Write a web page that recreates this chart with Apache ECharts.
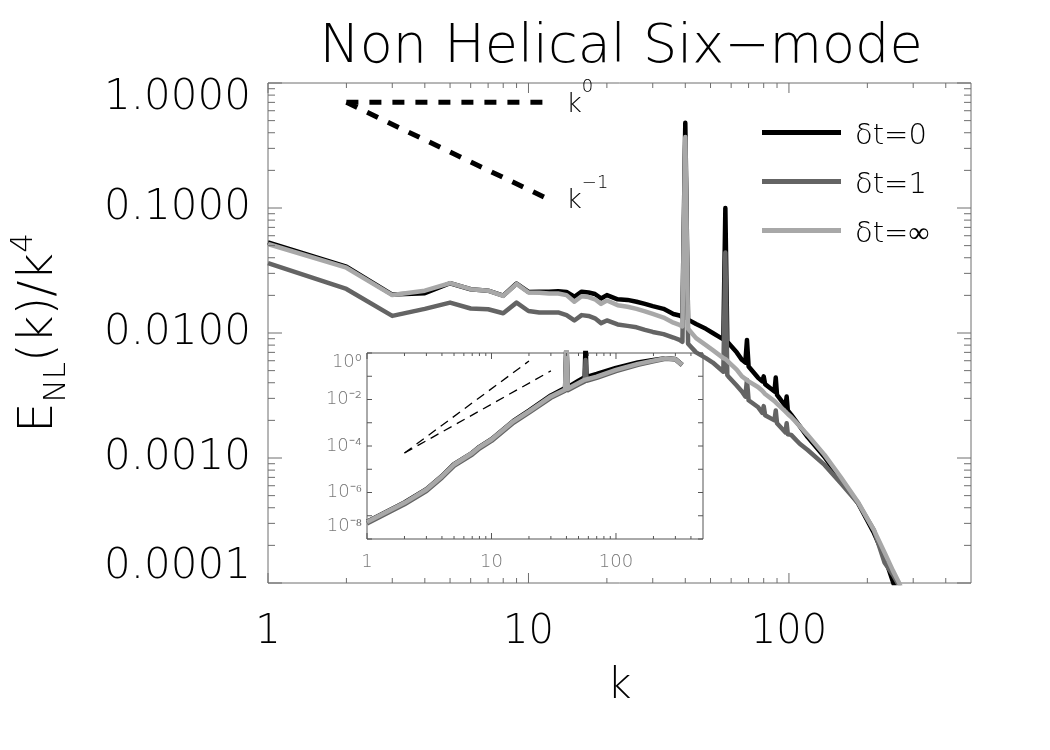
<!DOCTYPE html>
<html>
<head>
<meta charset="utf-8">
<script src="https://cdn.jsdelivr.net/npm/echarts@6.0.0/dist/echarts.min.js"></script>
<style>html,body{margin:0;padding:0;background:#fff;}#chart{width:1050px;height:750px;}</style>
</head>
<body>
<div id="chart"></div>
<script>
// ---------------- data ----------------
const seriesNames = ['δt=0', 'δt=1', 'δt=∞'];

const kMain = [1,2,3,4,5,6,7,8,9,10,11,12,13,14,15,16,17,18,19,20,22,24,26,28,30,33,36,38,39,40,41,44,48,51,56,57,58,59,63,66,68,69,70,76,79,80,81,88,89,90,97,98,99,102,110,118,137,158,184,212,233,251,265,280];

const eBlack = [0.053,0.0340,0.0203,0.0208,0.0250,0.0224,0.0218,0.0199,0.0249,0.0213,0.0214,0.0214,0.0216,0.0213,0.0195,0.0214,0.0211,0.0205,0.0189,0.0201,0.0186,0.0184,0.0178,0.0171,0.0164,0.0156,0.0142,0.0138,0.0134,0.48,0.0128,0.0118,0.0108,0.0100,0.0089,0.100,0.0085,0.0083,0.0070,0.0061,0.0058,0.0088,0.0054,0.0044,0.0041,0.0045,0.0039,0.0034,0.0044,0.0032,0.0026,0.0031,0.0024,0.00222,0.00180,0.00147,0.00102,0.000667,0.000437,0.000251,0.000161,0.000102,0.000072,0.000050];

const eDark = [0.0363,0.0225,0.0137,0.0156,0.0175,0.0157,0.0155,0.0144,0.0175,0.0150,0.0146,0.0146,0.0146,0.0139,0.0126,0.0139,0.0137,0.0131,0.0120,0.0126,0.0117,0.0114,0.0111,0.0106,0.0102,0.0098,0.0092,0.0088,0.0085,0.35,0.0082,0.0070,0.0063,0.0058,0.0049,0.044,0.0046,0.0044,0.0038,0.0034,0.0031,0.0042,0.0029,0.00256,0.0023,0.0026,0.0022,0.0020,0.0024,0.0019,0.0016,0.0019,0.00155,0.00153,0.0013,0.00116,0.00088,0.00063,0.000437,0.000265,0.000145,0.000116,0.000095,0.000070];

const eLight = [0.0515,0.0333,0.0201,0.0218,0.0251,0.0224,0.0218,0.0198,0.0247,0.0211,0.0210,0.0207,0.0207,0.0201,0.0178,0.0197,0.0194,0.0186,0.0171,0.0182,0.0167,0.0162,0.0156,0.0149,0.0142,0.0133,0.0121,0.0116,0.0113,0.37,0.0108,0.0091,0.0080,0.0073,0.0063,0.0062,0.0060,0.0058,0.0051,0.00450,0.00430,0.00420,0.00410,0.00370,0.00345,0.00335,0.00325,0.00285,0.00280,0.00272,0.00235,0.00230,0.00225,0.00213,0.00180,0.00153,0.00106,0.000705,0.000445,0.000265,0.000175,0.000125,0.000100,0.000075];

// reference slopes in the main panel
const kRef = [2, 11.7];
const refFlat = [0.7, 0.7];      // k^0
const refSteep = [0.7, 0.12];    // k^-1

// inset
const kInset = [1,2,3,4,5,7,8,10,15,20,30,39,40,41,50,56,57,58,70,100,150,200,250,300,340];
const insetBlack = [5.5e-8,3.7e-7,1.4e-6,5.1e-6,1.65e-5,5.1e-5,9.2e-5,1.95e-4,1.2e-3,3.3e-3,0.0150,0.031,3,0.034,0.064,0.090,3,0.094,0.125,0.23,0.39,0.50,0.60,0.55,0.31];
const insetDark = [4.7e-8,3.1e-7,1.15e-6,4.3e-6,1.4e-5,4.3e-5,7.8e-5,1.65e-4,1.0e-3,2.7e-3,0.0118,0.024,3,0.025,0.044,0.060,0.50,0.064,0.085,0.165,0.31,0.44,0.56,0.52,0.30];
const insetLight = [5.4e-8,3.6e-7,1.35e-6,5.0e-6,1.6e-5,5.0e-5,9.0e-5,1.9e-4,1.15e-3,3.1e-3,0.0135,0.027,3,0.029,0.051,0.070,0.072,0.074,0.097,0.187,0.34,0.47,0.59,0.54,0.31];
const kRefInset4 = [2, 20];
const refInset4 = [5e-5, 0.45];
const kRefInset3 = [2, 30];
const refInset3 = [5e-5, 0.17];

// ticks
const mainXMajor = [1, 10, 100];
const mainXMinor = [2,3,4,5,6,7,8,9,20,30,40,50,60,70,80,90,200,300,400];
const mainYMajor = [0.0001, 0.001, 0.01, 0.1, 1];
const mainYMinor = [0.0002,0.0003,0.0004,0.0005,0.0006,0.0007,0.0008,0.0009,0.002,0.003,0.004,0.005,0.006,0.007,0.008,0.009,0.02,0.03,0.04,0.05,0.06,0.07,0.08,0.09,0.2,0.3,0.4,0.5,0.6,0.7,0.8,0.9];
const insetXMajor = [1, 10, 100];
const insetXMinor = [2,3,4,5,6,7,8,9,20,30,40,50,60,70,80,90,200,300,400];
const insetYMajor = [1e-8,1e-7,1e-6,1e-5,1e-4,1e-3,1e-2,1e-1,1];
const supDigits = {'0':'⁰','1':'¹','2':'²','3':'³','4':'⁴','5':'⁵','6':'⁶','7':'⁷','8':'⁸','9':'⁹'};

const mainX = [1, 500], mainY = [0.0001, 1];
const insX = [1, 500], insY = [1e-8, 1];

// ---------------- chart ----------------
const F = 'DejaVu Sans';
const W = 200;
const C_BLACK = '#000000', C_DARK = '#646464', C_LIGHT = '#a8a8a8';
const AX = '#6e6e6e';
const IN = '#7a7a7a';
const pairs = (ks, vs) => ks.map((k, i) => [k, vs[i]]);
const expOf = v => Math.round(Math.log10(v));
const isDecade = v => Math.abs(Math.log10(v) - Math.round(Math.log10(v))) < 1e-6;
const supText = e => (e < 0 ? '⁻' : '') + String(Math.abs(e)).split('').map(d => supDigits[d]).join('');

function tickSeries(gi, dir, values, len, xr, yr, color) {
  return {
    type: 'custom', xAxisIndex: gi, yAxisIndex: gi, silent: true, z: 10, clip: false,
    data: values.map(v => dir === 'x' ? [v, yr[0]] : [xr[0], v]),
    renderItem: (params, api) => {
      let a, b, ch;
      if (dir === 'x') {
        const v = api.value(0);
        a = api.coord([v, yr[0]]); b = api.coord([v, yr[1]]);
        ch = [[a[0], a[1], a[0], a[1] - len], [b[0], b[1], b[0], b[1] + len]];
      } else {
        const v = api.value(1);
        a = api.coord([xr[0], v]); b = api.coord([xr[1], v]);
        ch = [[a[0], a[1], a[0] + len, a[1]], [b[0], b[1], b[0] - len, b[1]]];
      }
      return { type: 'group', children: ch.map(c => ({
        type: 'line', shape: { x1: c[0], y1: c[1], x2: c[2], y2: c[3] },
        style: { stroke: color, lineWidth: 1 } })) };
    }
  };
}

function curve(name, gi, ks, vs, color, width) {
  return {
    name, type: 'line', xAxisIndex: gi, yAxisIndex: gi, data: pairs(ks, vs),
    showSymbol: false, symbol: 'none', clip: true,
    lineStyle: { color, width, join: 'round' }, itemStyle: { color }
  };
}

function refLine(gi, ks, vs, width, dash, label) {
  const s = {
    type: 'line', xAxisIndex: gi, yAxisIndex: gi, data: pairs(ks, vs), silent: true,
    showSymbol: false, symbol: 'none', clip: true, z: 3,
    lineStyle: { color: '#000', width, type: dash, cap: 'butt' }
  };
  if (label) {
    s.endLabel = {
      show: true, formatter: label, distance: 20, offset: [0, -4],
      rich: {
        k: { fontFamily: F, fontWeight: W, fontSize: 27, lineHeight: 40, verticalAlign: 'bottom', color: '#000' },
        s: { fontFamily: F, fontWeight: W, fontSize: 18, lineHeight: 40, verticalAlign: 'top', color: '#000' }
      }
    };
  }
  return s;
}

const chart = echarts.init(document.getElementById('chart'));

const option = {
  animation: false,
  backgroundColor: '#ffffff',
  title: {
    text: 'Non Helical Six−mode', left: 616, top: 16, textAlign: 'center',
    textStyle: { fontFamily: F, fontWeight: W, fontSize: 54, color: '#000' }
  },
  legend: {
    data: seriesNames, orient: 'vertical', left: 762, top: 114, padding: 0,
    itemWidth: 79, itemHeight: 5, itemGap: 12, icon: 'rect', selectedMode: false,
    formatter: n => '{p|' + n + '}',
    textStyle: {
      fontFamily: F, fontWeight: W, fontSize: 29, color: '#000',
      rich: { p: { fontFamily: F, fontWeight: W, fontSize: 29, lineHeight: 30, padding: [8, 0, 0, 9], color: '#000' } }
    }
  },
  grid: [
    { left: 262, right: 79, top: 83, bottom: 167, show: true, borderColor: AX, borderWidth: 1, backgroundColor: 'transparent', containLabel: false },
    { left: 367, right: 347, top: 353, bottom: 211, show: true, borderColor: '#555', borderWidth: 1, backgroundColor: 'transparent', containLabel: false }
  ],
  xAxis: [
    {
      type: 'log', logBase: 10, gridIndex: 0, min: mainX[0], max: mainX[1],
      axisLine: { show: false }, axisTick: { show: false }, splitLine: { show: false },
      axisLabel: {
        margin: 30, fontFamily: F, fontWeight: W, fontSize: 40, color: '#000',
        formatter: v => isDecade(v) ? String(Math.round(v)) : ''
      },
      name: 'k', nameLocation: 'middle', nameGap: 83,
      nameTextStyle: { fontFamily: F, fontWeight: W, fontSize: 42, color: '#000' }
    },
    {
      type: 'log', logBase: 10, gridIndex: 1, min: insX[0], max: insX[1],
      axisLine: { show: false }, axisTick: { show: false }, splitLine: { show: false },
      axisLabel: {
        margin: 14, fontFamily: F, fontWeight: W, fontSize: 18, color: IN,
        formatter: v => isDecade(v) ? String(Math.round(v)) : ''
      }
    }
  ],
  yAxis: [
    {
      type: 'log', logBase: 10, gridIndex: 0, min: mainY[0], max: mainY[1],
      axisLine: { show: false }, axisTick: { show: false }, splitLine: { show: false },
      axisLabel: {
        margin: 17, fontFamily: F, fontWeight: W, fontSize: 42, color: '#000',
        formatter: v => {
          const e = expOf(v);
          const s = Math.pow(10, e).toFixed(4);
          if (e === 0) return '{t|' + s + '}';
          if (e === -4) return '{b|' + s + '}';
          return s;
        },
        rich: {
          t: { fontFamily: F, fontWeight: W, fontSize: 42, color: '#000', padding: [30, 0, 0, 0] },
          b: { fontFamily: F, fontWeight: W, fontSize: 42, color: '#000', padding: [0, 0, 32, 0] }
        }
      },
      name: '{e|E}{sub|NL}{e|(k)/k}{sup|4}', nameLocation: 'middle', nameRotate: 90, nameGap: 196,
      nameTextStyle: {
        fontFamily: F, fontWeight: W, fontSize: 48, color: '#000',
        rich: {
          e: { fontFamily: F, fontWeight: W, fontSize: 48, lineHeight: 64, verticalAlign: 'middle', color: '#000' },
          sub: { fontFamily: F, fontWeight: W, fontSize: 31, lineHeight: 64, verticalAlign: 'bottom', color: '#000' },
          sup: { fontFamily: F, fontWeight: W, fontSize: 31, lineHeight: 64, verticalAlign: 'top', color: '#000' }
        }
      }
    },
    {
      type: 'log', logBase: 10, gridIndex: 1, min: insY[0], max: insY[1],
      axisLine: { show: false }, axisTick: { show: false }, splitLine: { show: false },
      axisLabel: {
        margin: 5, fontFamily: F, fontWeight: W, fontSize: 18, color: IN,
        formatter: v => {
          const e = expOf(v);
          if (e % 2 !== 0) return '';
          const txt = '10' + supText(e);
          if (e === 0) return '{t|' + txt + '}';
          if (e === -8) return '{b|' + txt + '}';
          return txt;
        },
        rich: {
          t: { fontFamily: F, fontWeight: W, fontSize: 18, color: IN, padding: [18, 0, 0, 0] },
          b: { fontFamily: F, fontWeight: W, fontSize: 18, color: IN, padding: [0, 0, 26, 0] }
        }
      }
    }
  ],
  series: [
    curve(seriesNames[0], 0, kMain, eBlack, C_BLACK, 4.5),
    curve(seriesNames[1], 0, kMain, eDark, C_DARK, 4.5),
    curve(seriesNames[2], 0, kMain, eLight, C_LIGHT, 4.5),
    refLine(0, kRef, refFlat, 5, [12, 11], '{k|k}{s|0}'),
    refLine(0, kRef, refSteep, 5, [12, 11], '{k|k}{s|−1}'),
    curve('inset δt=0', 1, kInset, insetBlack, C_BLACK, 4.5),
    curve('inset δt=1', 1, kInset, insetDark, C_DARK, 4.5),
    curve('inset δt=∞', 1, kInset, insetLight, C_LIGHT, 4.5),
    refLine(1, kRefInset4, refInset4, 1.3, [9, 6], null),
    refLine(1, kRefInset3, refInset3, 1.3, [9, 6], null),
    tickSeries(0, 'x', mainXMajor, 10, mainX, mainY, AX),
    tickSeries(0, 'x', mainXMinor, 5, mainX, mainY, AX),
    tickSeries(0, 'y', mainYMajor, 14, mainX, mainY, AX),
    tickSeries(0, 'y', mainYMinor, 7, mainX, mainY, AX),
    tickSeries(1, 'x', insetXMajor, 6, insX, insY, '#555'),
    tickSeries(1, 'x', insetXMinor, 3, insX, insY, '#555'),
    tickSeries(1, 'y', insetYMajor, 5, insX, insY, '#555')
  ]
};
chart.setOption(option);
</script>
</body>
</html>
